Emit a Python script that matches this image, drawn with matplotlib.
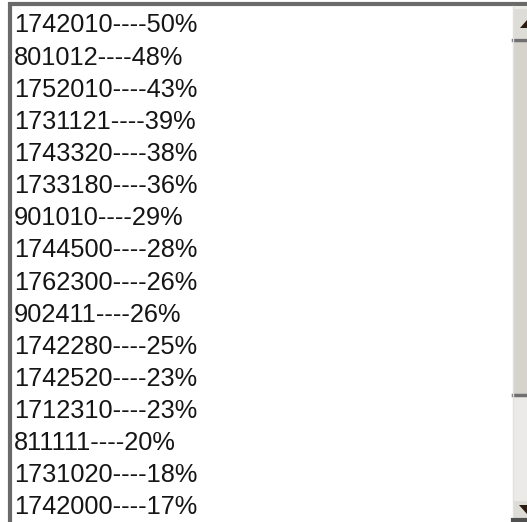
import matplotlib
matplotlib.use("Agg")
import matplotlib.pyplot as plt
from matplotlib.patches import Rectangle, Polygon

# list box contents
codes = ["1742010", "801012", "1752010", "1731121", "1743320", "1733180",
         "901010", "1744500", "1762300", "902411", "1742280", "1742520",
         "1712310", "811111", "1731020", "1742000"]
percents = [50, 48, 43, 39, 38, 36, 29, 28, 26, 26, 25, 23, 23, 20, 18, 17]

W, H = 527, 522
fig = plt.figure(figsize=(W / 100, H / 100), dpi=100)
ax = fig.add_axes([0, 0, 1, 1])
ax.set_xlim(0, W)
ax.set_ylim(H, 0)
ax.axis("off")

# outer frame of the list box
ax.add_patch(Rectangle((9.5, 4), W, H, facecolor="white", edgecolor="#6a6a6a", lw=3))

# rows of text (baseline positions)
top, step = 32.5, 32.13
for i, (c, p) in enumerate(zip(codes, percents)):
    ax.text(14, top + i * step, f"{c}----{p}%", fontsize=18.3,
            family="Liberation Sans", va="baseline", ha="left", color="#151515")

# scrollbar on the right
sx = 513
ax.add_patch(Rectangle((sx, 6), W - sx, H - 6, facecolor="#ebeae6", edgecolor="none"))
ax.add_patch(Rectangle((sx, 40), W - sx, 355, facecolor="#d6d3cc", edgecolor="none"))
ax.plot([sx, W], [39.5, 39.5], color="#707070", lw=2.5)
ax.plot([sx, W], [395, 395], color="#707070", lw=2.5)
ax.plot([sx, sx], [6, H], color="#e0e0e0", lw=1)
# arrow buttons
ax.add_patch(Rectangle((sx + 1, 9), W - sx, 29, facecolor="#dedcd6", edgecolor="none"))
ax.add_patch(Rectangle((sx + 1, 501), W - sx, 17, facecolor="#dedcd6", edgecolor="none"))
ax.plot([sx, W], [519.5, 519.5], color="#505050", lw=3)
ax.add_patch(Polygon([[520, 28], [527, 28], [527, 20]], closed=True,
                     facecolor="#2a1a10", edgecolor="none"))
ax.add_patch(Polygon([[519, 505], [527, 505], [527, 514]], closed=True,
                     facecolor="#2a1a10", edgecolor="none"))

fig.savefig("out.png", dpi=100)
